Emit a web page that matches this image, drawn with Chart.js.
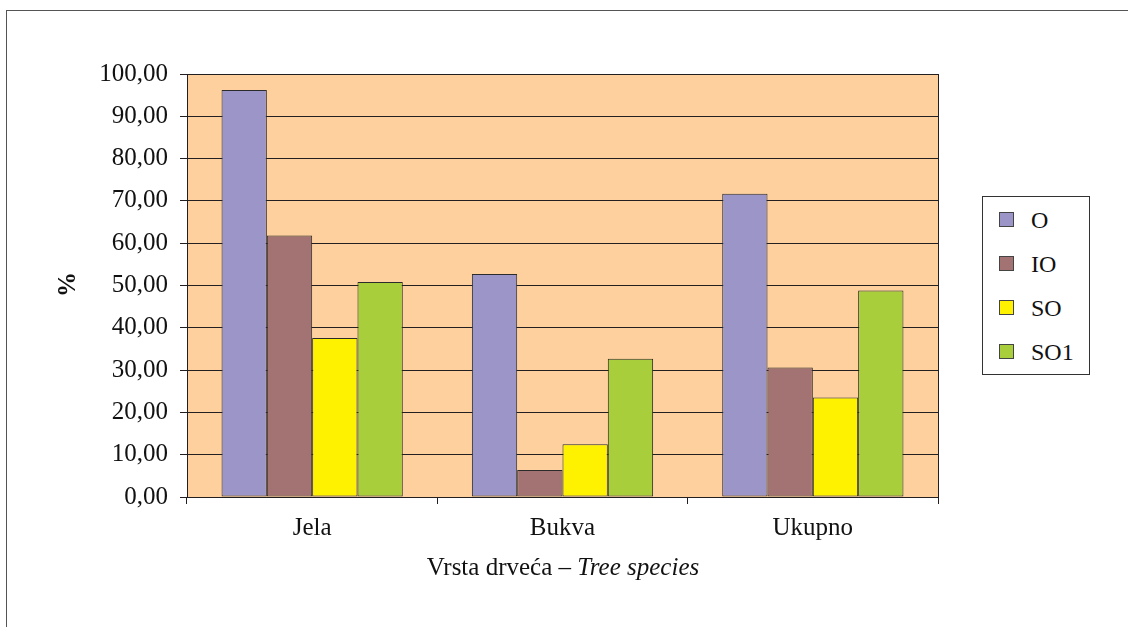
<!DOCTYPE html>
<html><head><meta charset="utf-8">
<script src="https://cdn.jsdelivr.net/npm/chart.js@4/dist/chart.umd.min.js"></script>
<style>
html,body{margin:0;padding:0;background:#fff;}
#wrap{position:relative;width:1128px;height:627px;overflow:hidden;font-family:"Liberation Serif","Times New Roman",serif;color:#111;}
#frame{position:absolute;left:6px;top:10px;width:1200px;height:700px;border:1.5px solid #555;}
canvas{position:absolute;left:0;top:0;}
#xt{position:absolute;left:0;width:1128px;top:554px;text-align:center;font-size:25px;line-height:25px;}
#xt span{position:relative;left:-1px;}
#yt{position:absolute;left:54px;top:272px;width:25px;height:25px;line-height:25px;text-align:center;font-size:25px;font-weight:bold;transform:rotate(-90deg);transform-origin:center;}
#legend{position:absolute;left:982px;top:196px;width:106px;height:177px;border:1px solid #333;background:#fff;}
.li{position:absolute;left:16px;height:24px;font-size:24px;line-height:24px;}
.li i{position:absolute;left:0;top:2px;width:15px;height:15px;border:1px solid #444;box-sizing:border-box;}
.li b{position:absolute;left:32px;top:-2px;font-weight:normal;white-space:nowrap;}
</style></head>
<body><div id="wrap">
<div id="frame"></div>
<canvas id="c" width="1128" height="627"></canvas>
<div id="yt">%</div>
<div id="xt"><span>Vrsta drveća – <i>Tree species</i></span></div>
<div id="legend"></div>
</div>
<script>
const categories = ["Jela", "Bukva", "Ukupno"];
const seriesNames = ["O", "IO", "SO", "SO1"];
const O   = [96.2, 52.7, 71.7];
const IO  = [61.8, 6.4, 30.6];
const SO  = [37.6, 12.5, 23.5];
const SO1 = [50.8, 32.7, 48.8];
const yTicks = [0,10,20,30,40,50,60,70,80,90,100];
const colors = ["#9b95c8", "#a37373", "#fff200", "#a8ce3b"];
const seriesValues = [O, IO, SO, SO1];

const plotBg = {
  id:'plotBg',
  beforeDraw(chart){
    const {ctx, chartArea:a} = chart;
    ctx.save(); ctx.fillStyle = '#fdd09d';
    ctx.fillRect(a.left, a.top, a.right-a.left, a.bottom-a.top);
    ctx.restore();
  },
  afterDraw(chart){
    const {ctx, chartArea:a} = chart;
    ctx.save(); ctx.strokeStyle = '#231f20'; ctx.lineWidth = 1;
    ctx.beginPath(); ctx.moveTo(Math.round(a.right)+0.5, a.top); ctx.lineTo(Math.round(a.right)+0.5, a.bottom+6); ctx.stroke();
    ctx.restore();
  }
};

new Chart(document.getElementById('c'), {
  type:'bar',
  data:{
    labels: categories,
    datasets: seriesNames.map((n,i)=>({
      label:n, data:seriesValues[i], backgroundColor:colors[i],
      borderColor:'#2b2b2b', borderWidth:1, borderSkipped:false,
      barPercentage:1, categoryPercentage:0.724
    }))
  },
  options:{
    responsive:false, animation:false,
    layout:{padding:{left:0, top:74, right:190, bottom:0}},
    plugins:{legend:{display:false}, tooltip:{enabled:false}},
    scales:{
      x:{
        afterFit(s){ s.height = 130; },
        grid:{display:true, drawOnChartArea:false, tickLength:7, color:'#231f20', offset:true},
        border:{display:true, color:'#231f20'},
        ticks:{color:'#111', padding:9, font:{family:'"Liberation Serif"', size:25}}
      },
      y:{
        min:0, max:100,
        afterFit(s){ s.width = 187; },
        afterBuildTicks(s){ s.ticks = yTicks.map(v=>({value:v})); },
        grid:{color:'#231f20', lineWidth:1, tickLength:7},
        border:{display:true, color:'#231f20'},
        ticks:{color:'#111', padding:12, font:{family:'"Liberation Serif"', size:25},
          callback:v=>v.toFixed(2).replace('.', ',')}
      }
    }
  },
  plugins:[plotBg]
});

const lg = document.getElementById('legend');
seriesNames.forEach((n,i)=>{
  const d = document.createElement('div');
  d.className='li'; d.style.top = (13 + i*44) + 'px';
  d.innerHTML = '<i style="background:'+colors[i]+'"></i><b>'+n+'</b>';
  lg.appendChild(d);
});
</script>
</body></html>
